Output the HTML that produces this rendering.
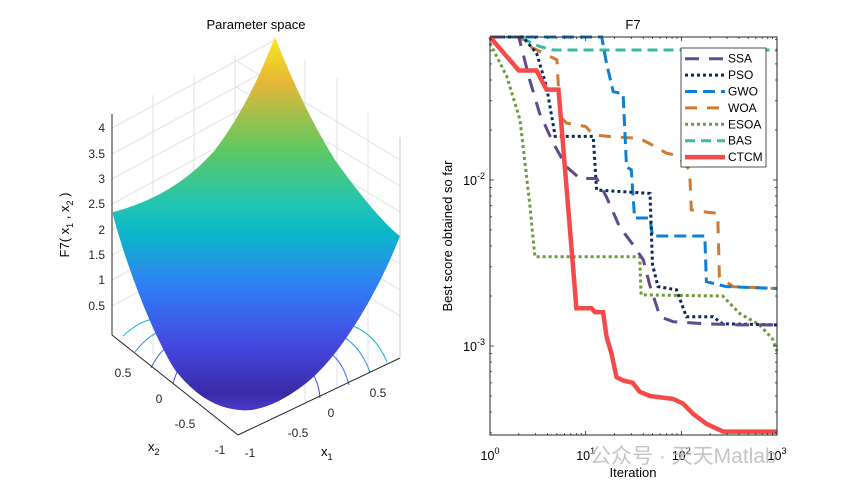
<!DOCTYPE html>
<html><head><meta charset="utf-8"><style>
body{margin:0;background:#fff;width:860px;height:490px;overflow:hidden}
svg{font-family:"Liberation Sans","Noto Sans CJK SC",sans-serif}
</style></head><body>
<svg id="svg" width="860" height="490" viewBox="0 0 860 490" xmlns="http://www.w3.org/2000/svg">
<defs>
<linearGradient id="surfg" x1="0" y1="37" x2="0" y2="412" gradientUnits="userSpaceOnUse">
<stop offset="0" stop-color="#f9e721"/>
<stop offset="0.12" stop-color="#e6b636"/>
<stop offset="0.3" stop-color="#5ec962"/>
<stop offset="0.45" stop-color="#21c4b4"/>
<stop offset="0.52" stop-color="#0bb8c8"/>
<stop offset="0.66" stop-color="#2f80f5"/>
<stop offset="0.82" stop-color="#4448e0"/>
<stop offset="0.95" stop-color="#3a2aa8"/>
<stop offset="1" stop-color="#4a3ad0"/>
</linearGradient>
</defs>
<g id="left">
<text x="256" y="29" font-size="13" text-anchor="middle">Parameter space</text>
<g stroke="#e2e2e2" stroke-width="1" fill="none">
<line x1="153" y1="95" x2="153" y2="355"/><line x1="194" y1="75" x2="194" y2="380"/><line x1="235" y1="55" x2="235" y2="405"/>
<line x1="305" y1="60" x2="305" y2="405"/><line x1="337" y1="78" x2="337" y2="390"/><line x1="368" y1="112" x2="368" y2="372"/>
<line x1="112" y1="128" x2="275" y2="40"/><line x1="112" y1="154" x2="275" y2="66"/><line x1="112" y1="179" x2="275" y2="91"/>
<line x1="112" y1="204" x2="275" y2="116"/><line x1="112" y1="230" x2="275" y2="142"/><line x1="112" y1="255" x2="275" y2="167"/>
<line x1="112" y1="280" x2="275" y2="192"/><line x1="112" y1="306" x2="275" y2="218"/>
<line x1="400" y1="160" x2="235" y2="60"/><line x1="400" y1="186" x2="235" y2="86"/><line x1="400" y1="212" x2="235" y2="112"/>
<line x1="400" y1="238" x2="235" y2="138"/><line x1="400" y1="264" x2="235" y2="164"/><line x1="400" y1="290" x2="235" y2="190"/>
<line x1="400" y1="316" x2="235" y2="216"/>
</g>
<g stroke-width="1" fill="none">
<path d="M123 336 Q140 320 158 318" stroke="#12b8d0"/>
<path d="M135 352 Q150 332 170 328" stroke="#2a9ae8"/>
<path d="M151 368 Q162 345 180 340" stroke="#3a70f0"/>
<path d="M173 384 Q178 362 195 355" stroke="#4450e0"/>
<path d="M387 362 Q375 333 350 325" stroke="#12b8d0"/>
<path d="M370 372 Q360 345 340 335" stroke="#2a9ae8"/>
<path d="M349 385 Q342 358 325 350" stroke="#3a70f0"/>
<path d="M320 398 Q318 375 305 365" stroke="#4450e0"/>
</g>
<path fill="url(#surfg)" d="M113 212 C140 205 180 190 215 150 C245 110 262 70 275 37 C290 75 310 120 335 160 C360 195 385 225 400 236 C385 275 350 345 310 380 C280 405 255 412 240 410 C215 408 195 395 175 370 C150 330 125 260 113 215 Z"/>
<g stroke="#262626" stroke-width="1" fill="none">
<line x1="112" y1="114" x2="112" y2="335"/>
<line x1="112" y1="335" x2="238" y2="435"/>
<line x1="238" y1="435" x2="400" y2="358"/>
<line x1="400" y1="137" x2="400" y2="358" stroke="#ccc"/>
</g>
<g font-size="12" fill="#262626" text-anchor="end">
<text x="105" y="132">4</text><text x="105" y="158">3.5</text><text x="105" y="183">3</text><text x="105" y="208">2.5</text>
<text x="105" y="234">2</text><text x="105" y="259">1.5</text><text x="105" y="284">1</text><text x="105" y="310">0.5</text>
</g>
<g font-size="12" fill="#262626" text-anchor="middle">
<text x="123" y="377">0.5</text><text x="159" y="403">0</text><text x="185" y="428">-0.5</text><text x="220" y="454">-1</text>
</g>
<g font-size="12" fill="#262626" text-anchor="middle">
<text x="250" y="457">-1</text><text x="298" y="437">-0.5</text><text x="331" y="417">0</text><text x="378" y="397">0.5</text>
</g>
<text x="148" y="451" font-size="13">x<tspan font-size="9" dy="4">2</tspan></text>
<text x="321" y="456" font-size="13">x<tspan font-size="9" dy="4">1</tspan></text>
<text transform="translate(69,225) rotate(-90)" font-size="13" text-anchor="middle">F7( x<tspan font-size="9" dy="4">1</tspan><tspan dy="-4"> , x</tspan><tspan font-size="9" dy="4">2</tspan><tspan dy="-4"> )</tspan></text>
</g>
<g id="right">
<text x="633" y="29" font-size="13" text-anchor="middle">F7</text>
<g id="series"></g>
<rect x="490" y="37" width="287" height="398" fill="none" stroke="#262626" stroke-width="1"/>
<g id="ticks"></g>
<text transform="translate(452,236) rotate(-90)" font-size="13" text-anchor="middle">Best score obtained so far</text>
<text x="633" y="477" font-size="13" text-anchor="middle">Iteration</text>
<g id="legend"></g>
</g>
<text x="590" y="463" font-size="21" fill="#bbb" opacity="0.85">公众号 · 天天Matlab</text>
</svg>
<script>
const seriesNames=["SSA","PSO","GWO","WOA","ESOA","BAS","CTCM"];
const ssaIter=[1,2,2.6,3.3,4.6,6.3,8.7,13,16.5,22.7,31,40,47,60,82,183,408,1000];
const ssaVal=[0.0726,0.0726,0.04,0.0252,0.0166,0.012,0.0102,0.0102,0.0079,0.0052,0.0041,0.0033,0.0023,0.0015,0.0014,0.00136,0.00134,0.00134];
const psoIter=[1,2.2,3.07,3.9,4.8,12,13,47,50,57,89,113,215,270,1000];
const psoVal=[0.0726,0.0726,0.058,0.0365,0.0183,0.0183,0.0087,0.0083,0.0031,0.00228,0.00218,0.0015,0.0015,0.00136,0.00134];
const gwoIter=[1,14.7,16.5,19.4,24.6,26.7,30,32.5,47,50,176,183,295,1000];
const gwoVal=[0.0726,0.0726,0.0505,0.034,0.033,0.012,0.0115,0.0059,0.0059,0.0046,0.0046,0.00244,0.00228,0.00222];
const woaIter=[1,2,2.6,5,5.4,6.3,10,12,19.4,36.7,50,70,89,122,127,183,240,250,348,1000];
const woaVal=[0.0726,0.0726,0.0636,0.0529,0.0241,0.022,0.021,0.0187,0.0182,0.0178,0.0162,0.0145,0.0141,0.0115,0.0066,0.0064,0.0063,0.0026,0.00228,0.00222];
const esoaIter=[1,1.5,2.06,2.6,2.95,36.7,38,270,408,660,900,1000];
const esoaVal=[0.0666,0.042,0.023,0.0072,0.00345,0.00345,0.00203,0.002,0.00157,0.00134,0.0011,0.00093];
const basIter=[1,2,3.3,4.6,1000];
const basVal=[0.0726,0.0726,0.0636,0.0606,0.0606];
const ctcmIter=[1,2,3.07,3.9,5.2,8,11.5,12.5,15.2,16.5,18.6,21,24.6,31,36.7,47,82,104,133,183,273,1000];
const ctcmVal=[0.0726,0.0456,0.0456,0.035,0.035,0.00169,0.00169,0.0016,0.0016,0.00114,0.0009,0.00065,0.00062,0.0006,0.00053,0.0005,0.00048,0.00045,0.00039,0.00034,0.000305,0.000305];
const xTickExp=[0,1,2,3];
const yTickExp=[-3,-2];

const NS="http://www.w3.org/2000/svg";
const X0=490,X1=777,Y0=37,Y1=435;
const xMinL=0,xMaxL=3,yMaxL=Math.log10(0.0726),yMinL=-3.536;
function sx(v){return X0+(Math.log10(v)-xMinL)/(xMaxL-xMinL)*(X1-X0);}
function sy(v){return Y0+(yMaxL-Math.log10(v))/(yMaxL-yMinL)*(Y1-Y0);}
const styles=[
 {c:"#5e4a8c",w:3,d:"14 10"},
 {c:"#0a2a5a",w:3,d:"3 3"},
 {c:"#0f7fd0",w:3,d:"12 6"},
 {c:"#d07a30",w:3,d:"12 10"},
 {c:"#6d9a3a",w:3,d:"3 3"},
 {c:"#3ab8a8",w:3,d:"10 6"},
 {c:"#f44a4a",w:4.5,d:""}];
const data=[[ssaIter,ssaVal],[psoIter,psoVal],[gwoIter,gwoVal],[woaIter,woaVal],[esoaIter,esoaVal],[basIter,basVal],[ctcmIter,ctcmVal]];
const sg=document.getElementById("series");
const order=[5,3,2,4,1,0,6];
order.forEach(i=>{
  const [it,vl]=data[i];
  const p=document.createElementNS(NS,"path");
  p.setAttribute("d",it.map((x,k)=>(k?"L":"M")+sx(x).toFixed(1)+" "+sy(vl[k]).toFixed(1)).join(""));
  p.setAttribute("fill","none");p.setAttribute("stroke",styles[i].c);p.setAttribute("stroke-width",styles[i].w);
  if(styles[i].d)p.setAttribute("stroke-dasharray",styles[i].d);
  
  
  sg.appendChild(p);
});
const tg=document.getElementById("ticks");
function ln(x1,y1,x2,y2){const l=document.createElementNS(NS,"line");l.setAttribute("x1",x1);l.setAttribute("y1",y1);l.setAttribute("x2",x2);l.setAttribute("y2",y2);l.setAttribute("stroke","#262626");l.setAttribute("stroke-width","0.8");


tg.appendChild(l);}
xTickExp.forEach(e=>{
  for(let m=1;m<10;m++){const v=Math.pow(10,e)*m;if(Math.log10(v)>3.0001)break;const x=sx(v);const L=m==1?4:2;ln(x,Y1,x,Y1-L);ln(x,Y0,x,Y0+L);}
  const t=document.createElementNS(NS,"text");
  t.setAttribute("x",sx(Math.pow(10,e)));t.setAttribute("y",460);t.setAttribute("font-size","12.5");t.setAttribute("text-anchor","middle");
  t.innerHTML='10<tspan font-size="9" dy="-6">'+e+'</tspan>';
  
  
  tg.appendChild(t);
});
for(let e=-4;e<=-1;e++){for(let m=1;m<10;m++){const v=Math.pow(10,e)*m;const y=sy(v);if(y<Y0||y>Y1)continue;const L=m==1?4:2;ln(X0,y,X0+L,y);ln(X1,y,X1-L,y);}}
yTickExp.forEach(e=>{
  const t=document.createElementNS(NS,"text");
  t.setAttribute("x",485);t.setAttribute("y",sy(Math.pow(10,e))+5);t.setAttribute("font-size","12.5");t.setAttribute("text-anchor","end");
  t.innerHTML='10<tspan font-size="9" dy="-6">'+e+'</tspan>';
  
  
  tg.appendChild(t);
});
const lg=document.getElementById("legend");
const box=document.createElementNS(NS,"rect");
box.setAttribute("x",681);box.setAttribute("y",48);box.setAttribute("width",85);box.setAttribute("height",119);
box.setAttribute("fill","#fff");box.setAttribute("stroke","#262626");box.setAttribute("stroke-width","0.8");


lg.appendChild(box);
seriesNames.forEach((n,i)=>{
  const y=58.7+i*16.4;
  const l=document.createElementNS(NS,"line");
  l.setAttribute("x1",685);l.setAttribute("x2",725);l.setAttribute("y1",y);l.setAttribute("y2",y);
  l.setAttribute("stroke",styles[i].c);l.setAttribute("stroke-width",styles[i].w);
  if(styles[i].d)l.setAttribute("stroke-dasharray",styles[i].d);
  
  
  lg.appendChild(l);
  const t=document.createElementNS(NS,"text");
  t.setAttribute("x",728);t.setAttribute("y",y+4);t.setAttribute("font-size","12");t.textContent=n;
  
  
  lg.appendChild(t);
});
</script>
</body></html>
